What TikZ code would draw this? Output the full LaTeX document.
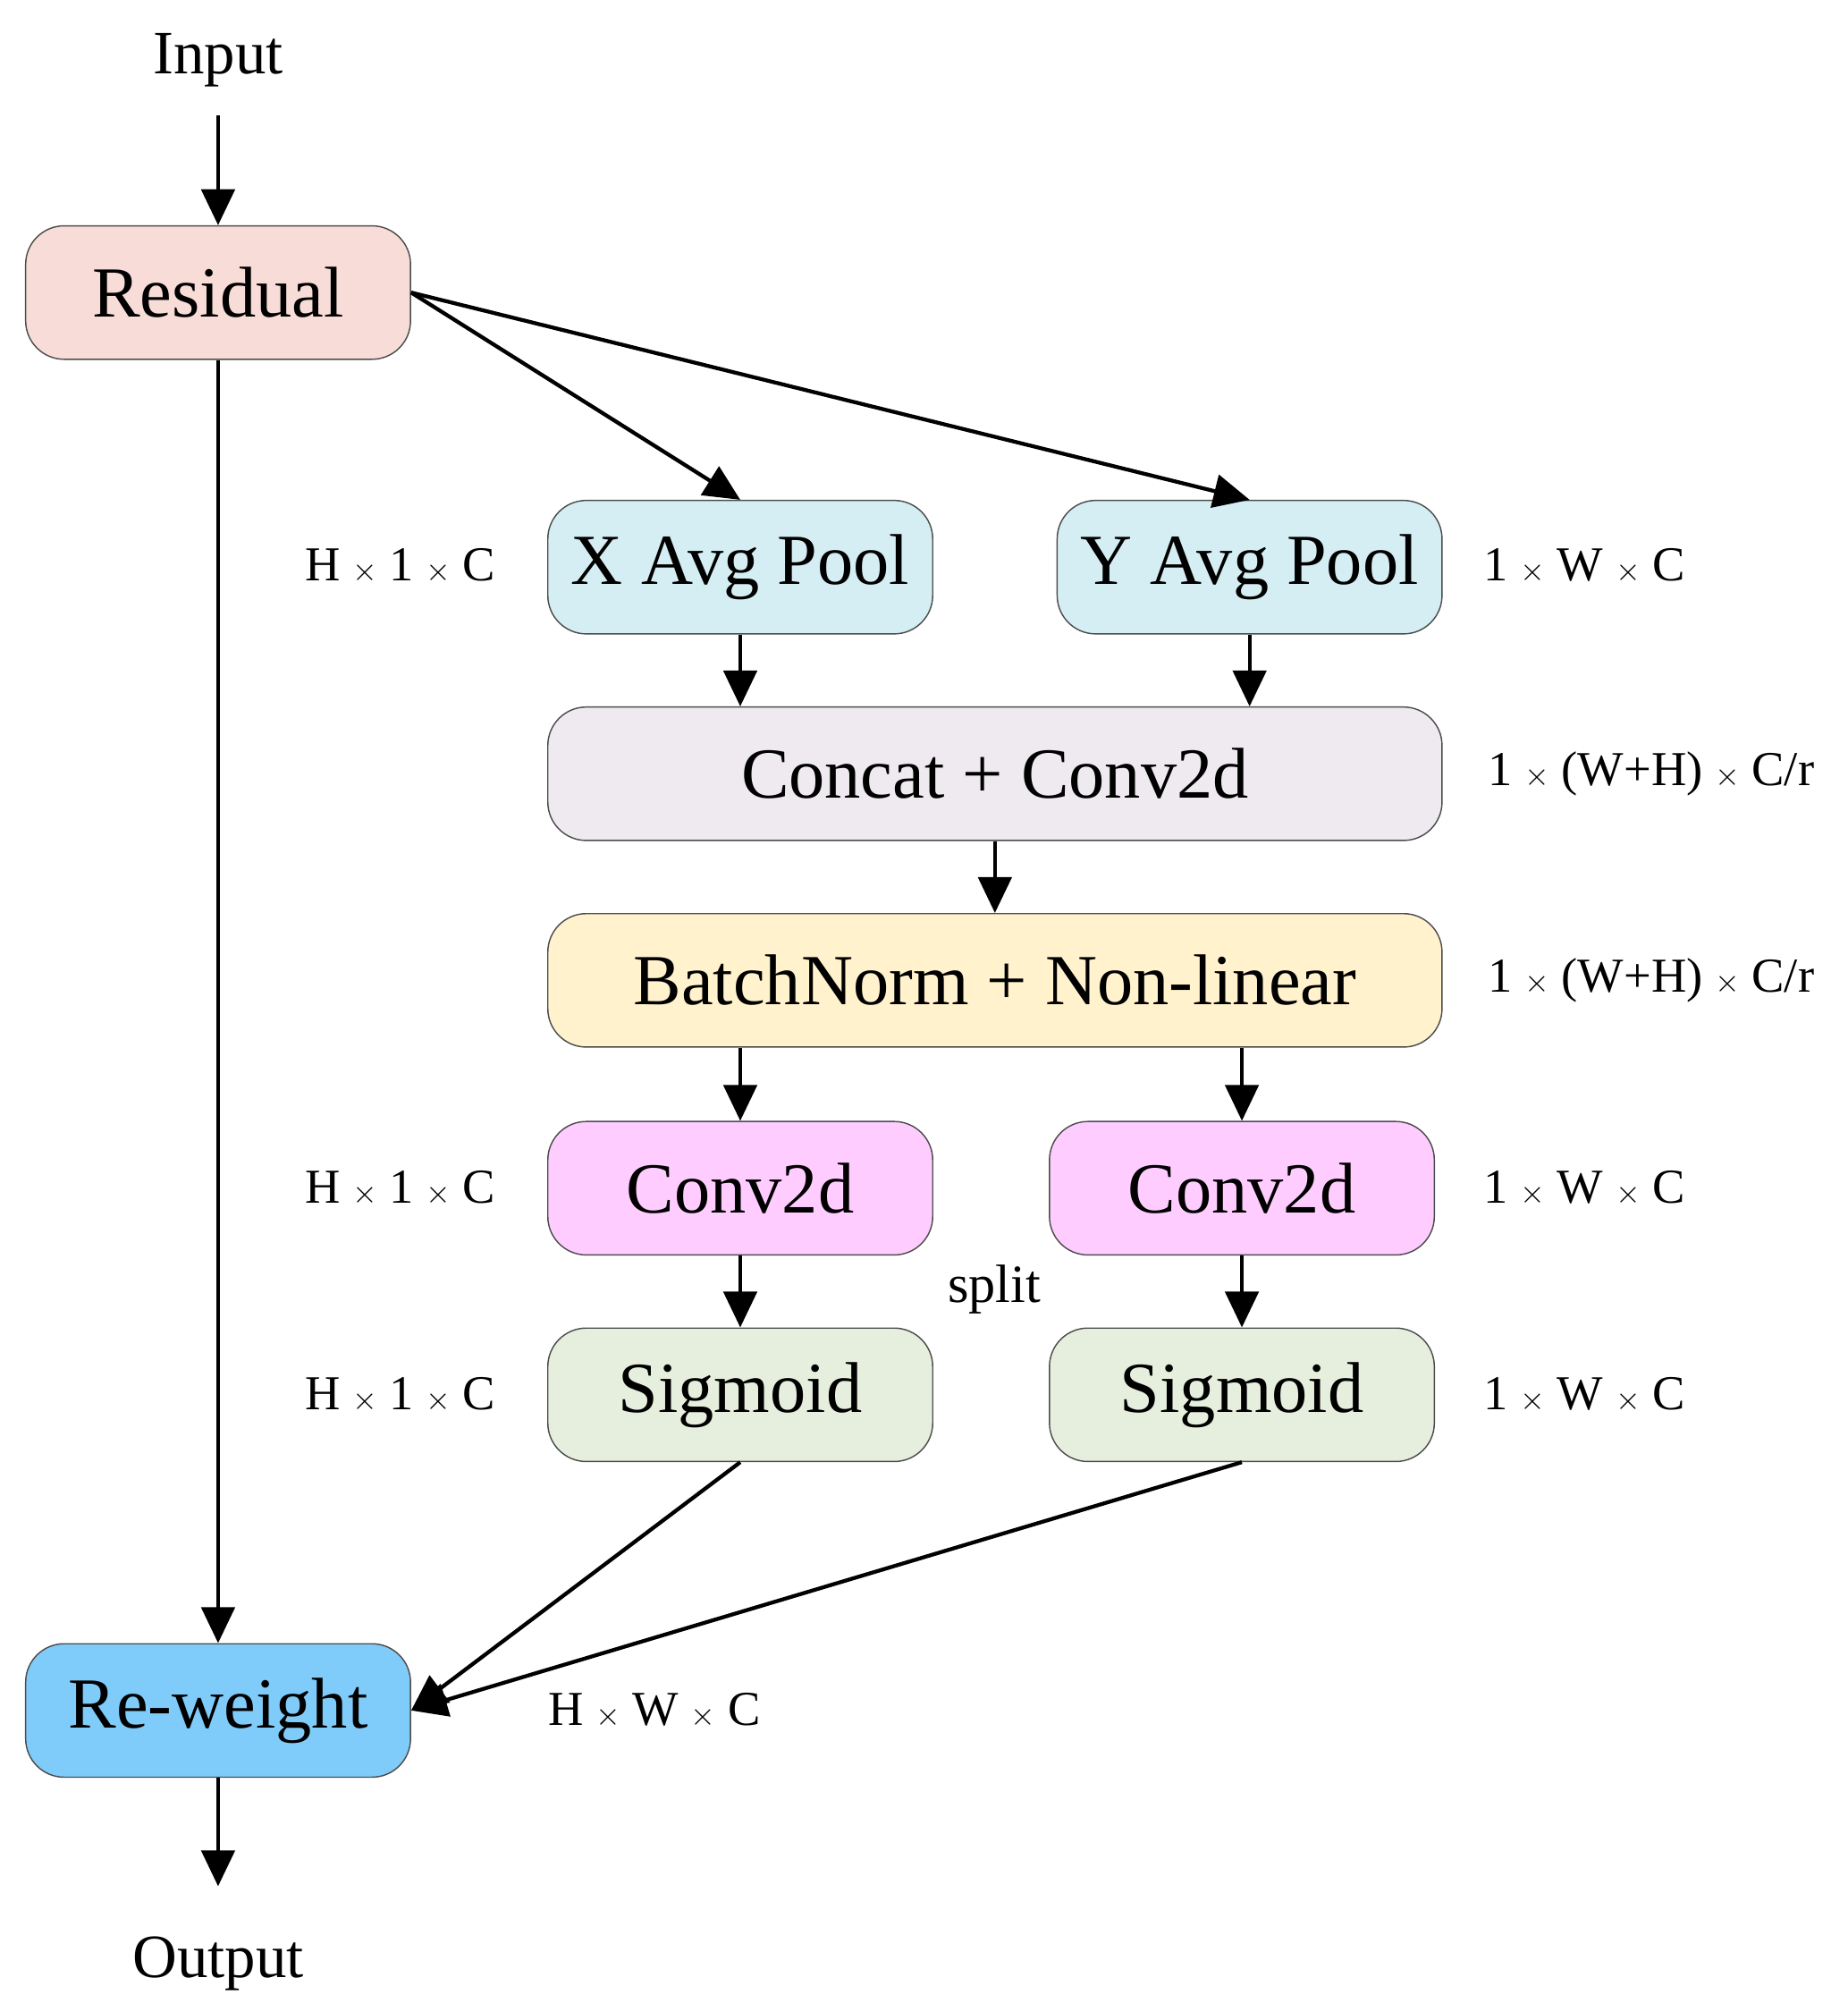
\documentclass[tikz,border=0pt]{standalone}
\usepackage{fontspec}
\setmainfont{Liberation Serif}
\usetikzlibrary{arrows.meta}
\begin{document}
\begin{tikzpicture}[x=1pt,y=-1pt,
  box/.style={draw=black!70,line width=1pt,rounded corners=30pt,minimum height=104pt,inner sep=0pt,font=\fontsize{56}{60}\selectfont},
  w3/.style={box,minimum width=300pt},
  w7/.style={box,minimum width=697pt},
  lab/.style={font=\fontsize{38}{42}\selectfont},
  arr/.style={line width=3pt,-{Triangle[length=28pt,width=26pt]}}]
\useasboundingbox (0,0) rectangle (1440,1561);
\definecolor{cres}{HTML}{F8DCD8}
\definecolor{cpool}{HTML}{D5EEF3}
\definecolor{ccat}{HTML}{EEEAF0}
\definecolor{cbn}{HTML}{FFF2CC}
\definecolor{cconv}{HTML}{FFCCFF}
\definecolor{csig}{HTML}{E6EFDD}
\definecolor{crw}{HTML}{7FCBF9}
\node[font=\fontsize{48}{52}\selectfont] (in) at (170,47) {Input};
\node[font=\fontsize{48}{52}\selectfont] (out) at (170,1530) {Output};
\node[w3,fill=cres] (res) at (170,228) {Residual};
\node[w3,fill=cpool] (xp) at (577,442) {X Avg Pool};
\node[w3,fill=cpool] (yp) at (974,442) {Y Avg Pool};
\node[w7,fill=ccat] (cat) at (775.5,603) {Concat + Conv2d};
\node[w7,fill=cbn] (bn) at (775.5,764) {BatchNorm + Non-linear};
\node[w3,fill=cconv] (c1) at (577,926) {Conv2d};
\node[w3,fill=cconv] (c2) at (968,926) {Conv2d};
\node[w3,fill=csig] (s1) at (577,1087) {Sigmoid};
\node[w3,fill=csig] (s2) at (968,1087) {Sigmoid};
\node[w3,fill=crw] (rw) at (170,1333) {Re-weight};
\coordinate (inA) at (170,90);
\coordinate (outA) at (170,1470);
\draw[arr] (inA) -- (res.north);
\draw[arr] (res.south) -- (rw.north);
\draw[arr] (res.east) -- (xp.north);
\draw[arr] (res.east) -- (yp.north);
\draw[arr] (xp.south) -- (xp.south |- cat.north);
\draw[arr] (yp.south) -- (yp.south |- cat.north);
\draw[arr] (cat.south) -- (bn.north);
\draw[arr] (c1.north |- bn.south) -- (c1.north);
\draw[arr] (c2.north |- bn.south) -- (c2.north);
\draw[arr] (c1.south) -- (s1.north);
\draw[arr] (c2.south) -- (s2.north);
\draw[arr] (s1.south) -- (rw.east);
\draw[arr] (s2.south) -- (rw.east);
\draw[arr] (rw.south) -- (outA);
\node[lab] (l1) at (312,441) {H $\times$ 1 $\times$ C};
\node[lab] (l2) at (1235,441) {1 $\times$ W $\times$ C};
\node[lab] (l3) at (1287,603) {1 $\times$ (W+H) $\times$ C/r};
\node[lab] (l4) at (1287,764) {1 $\times$ (W+H) $\times$ C/r};
\node[lab] (l5) at (312,926) {H $\times$ 1 $\times$ C};
\node[lab] (l6) at (1235,926) {1 $\times$ W $\times$ C};
\node[lab] (l7) at (312,1087) {H $\times$ 1 $\times$ C};
\node[lab] (l8) at (1235,1087) {1 $\times$ W $\times$ C};
\node[lab,font=\fontsize{42}{46}\selectfont] (sp) at (775,1005) {split};
\node[lab] (l9) at (510,1333) {H $\times$ W $\times$ C};
\end{tikzpicture}
\end{document}
